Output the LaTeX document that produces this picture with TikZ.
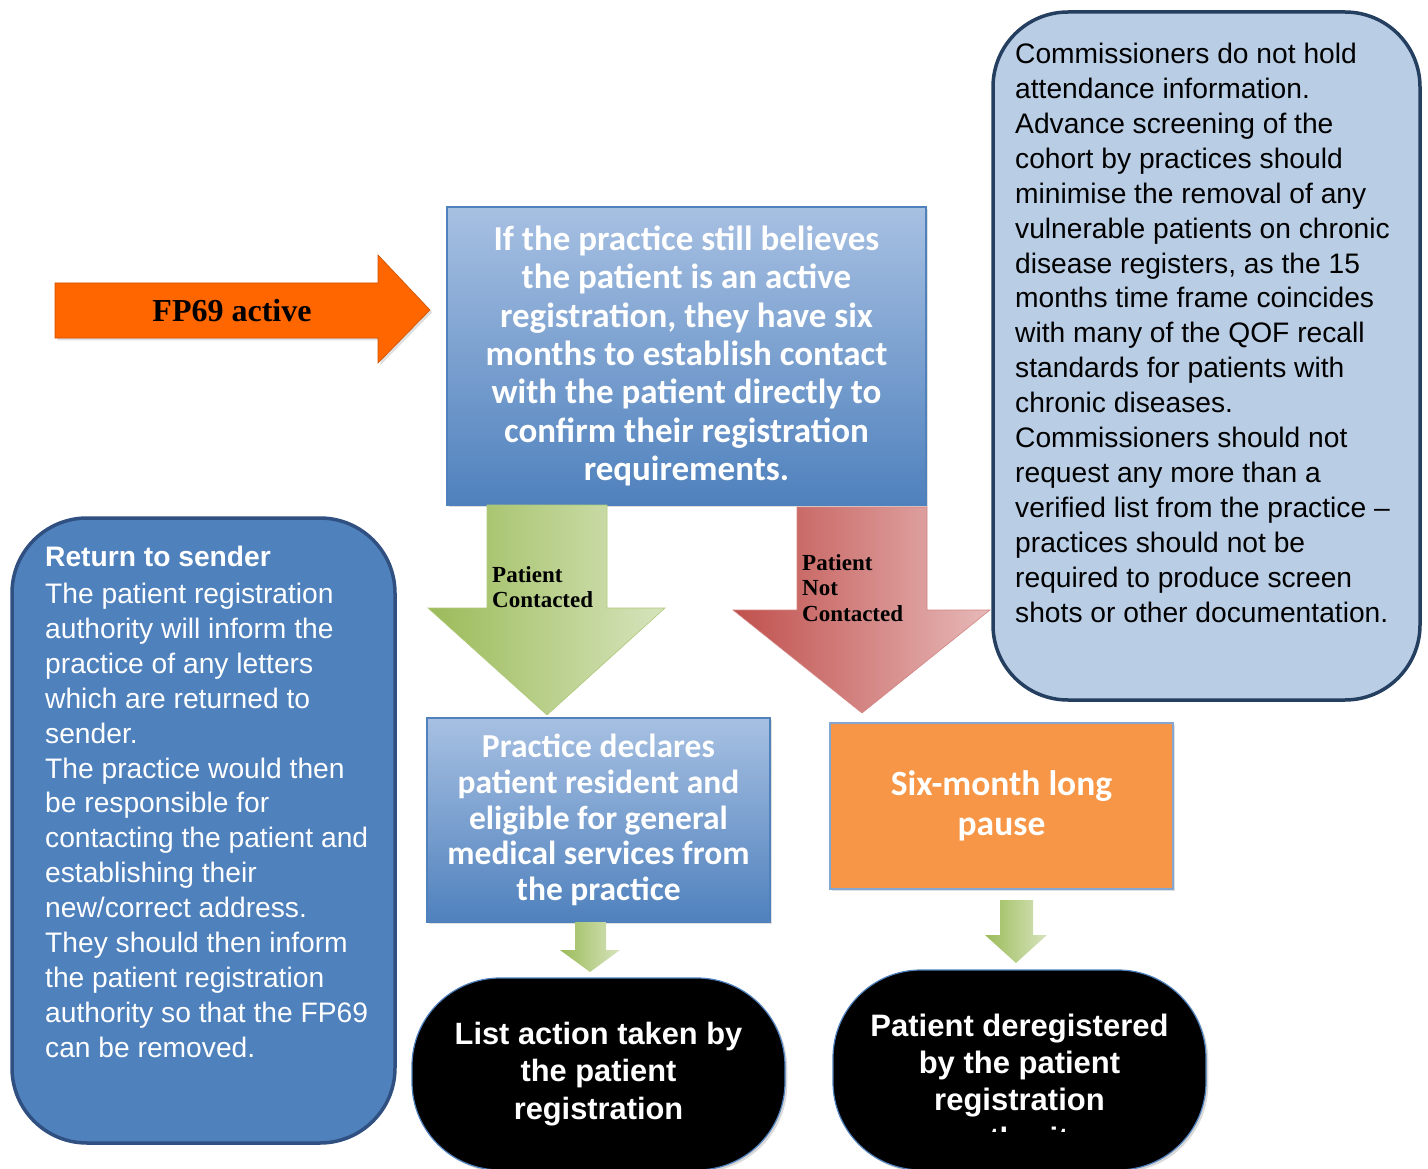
\documentclass[tikz,border=0pt]{standalone}
\usepackage{fontspec}
\setmainfont{Liberation Serif}
\setsansfont{Liberation Sans}
\newfontfamily\calib{Carlito}
\usepackage{tikz}
\usetikzlibrary{shadows}
\usepackage{xcolor}
\definecolor{flowblue}{HTML}{4F81BD}
\definecolor{paleblue}{HTML}{A7C0E2}
\definecolor{noteblue}{HTML}{B9CDE5}
\definecolor{navy}{HTML}{243F60}
\definecolor{deepnavy}{HTML}{2F5080}
\definecolor{flame}{HTML}{FF6600}
\definecolor{pauseorange}{HTML}{F79646}
\definecolor{leafgreen}{HTML}{9BBB59}
\definecolor{palegreen}{HTML}{D7E4BD}
\definecolor{brick}{HTML}{C0504D}
\definecolor{palered}{HTML}{E6B9B8}
\tikzstyle{gradbox} = [draw=flowblue, line width=1.2pt, top color=paleblue, bottom color=flowblue, text=white, align=center, inner sep=0pt, drop shadow={opacity=0.25}]
\tikzstyle{roundnote} = [draw=navy, line width=3.5pt, rounded corners=75pt, inner sep=0pt]
\tikzstyle{terminal} = [draw=flowblue, line width=1.2pt, fill=black, rounded corners=88pt, text=white, align=center, inner sep=0pt, drop shadow={opacity=0.3}]
\tikzstyle{arrowlabel} = [font=\fontsize{23}{25.5}\selectfont\bfseries, align=left, inner sep=0pt, anchor=north west]
\tikzstyle{notetext} = [font=\sffamily\fontsize{28.2}{34.9}\selectfont, align=left, inner sep=0pt, anchor=north west]

\begin{document}
\begin{tikzpicture}[x=1pt, y=-1pt]
    \useasboundingbox (0,0) rectangle (1428,1169);
    % entry arrow
    \filldraw [fill=flame, draw=flame!80!black, line width=0.6pt, drop shadow={opacity=0.25}]
        (55,283) -- (378,283) -- (378,255) -- (430,310) -- (378,363) -- (378,338) -- (55,338) -- cycle;
    \node [font=\fontsize{32}{34}\selectfont\bfseries, inner sep=0pt] (fpactive) at (232,311) {FP69 active};
    % main question box
    \node [gradbox, minimum width=479pt, minimum height=298pt,
           font=\calib\bfseries\fontsize{35}{38.3}\selectfont] (belief) at (686.5,356)
        {If the practice still believes\\ the patient is an active\\ registration, they have six\\
         months to establish contact\\ with the patient directly to\\ confirm their registration\\ requirements.};
    % outcome arrows
    \shade [left color=leafgreen, right color=palegreen, draw=leafgreen!80!white, line width=0.6pt]
        (487,505) -- (607,505) -- (607,608) -- (665,608) -- (547,715) -- (428,608) -- (487,608) -- cycle;
    \node [arrowlabel] (contacted) at (492,566) {Patient\\Contacted};
    \shade [left color=brick, right color=palered, draw=brick!70!white, line width=0.6pt]
        (797,507) -- (927,507) -- (927,610) -- (990,610) -- (862,713) -- (733,610) -- (797,610) -- cycle;
    \node [arrowlabel] (notcontacted) at (802,554) {Patient\\Not\\Contacted};
    % commissioners note
    \node [roundnote, fill=noteblue, minimum width=427pt, minimum height=688pt] (commish) at (1206.5,356) {};
    \node [notetext] (commishtxt) at (1015,43)
        {Commissioners do not hold\\ attendance information.\\ Advance screening of the\\ cohort by practices should\\
         minimise the removal of any\\ vulnerable patients on chronic\\ disease registers, as the 15\\
         months time frame coincides\\ with many of the QOF recall\\ standards for patients with\\ chronic diseases.\\
         Commissioners should not\\ request any more than a\\ verified list from the practice --\\
         practices should not be\\ required to produce screen\\ shots or other documentation.};
    % return to sender note
    \node [roundnote, draw=deepnavy, fill=flowblue, minimum width=383pt, minimum height=625pt] (sender) at (203.5,830.5) {};
    \node [notetext, text=white] (sendertxt) at (45,546)
        {\textbf{Return to sender}\\[2pt] The patient registration\\ authority will inform the\\ practice of any letters\\
         which are returned to\\ sender.\\ The practice would then\\ be responsible for\\ contacting the patient and\\
         establishing their\\ new/correct address.\\ They should then inform\\ the patient registration\\
         authority so that the FP69\\ can be removed.};
    % practice declares
    \node [gradbox, minimum width=343pt, minimum height=204pt,
           font=\calib\bfseries\fontsize{33.5}{35.6}\selectfont] (declares) at (598.5,820)
        {Practice declares\\ patient resident and\\ eligible for general\\ medical services from\\ the practice};
    % six month pause
    \node [draw=flowblue!70!white, line width=1.2pt, fill=pauseorange, minimum width=343pt, minimum height=166pt,
           text=white, align=center, inner sep=0pt, drop shadow={opacity=0.25},
           font=\calib\bfseries\fontsize{35.5}{40}\selectfont] (pause) at (1001.5,806)
        {Six-month long\\ pause};
    % small arrows
    \shade [left color=leafgreen, right color=palegreen]
        (575,922) -- (606,922) -- (606,950) -- (620,950) -- (590,972) -- (560,950) -- (575,950) -- cycle;
    \shade [left color=leafgreen, right color=palegreen]
        (1000,900) -- (1033,900) -- (1033,935) -- (1047,935) -- (1016,963) -- (985,935) -- (1000,935) -- cycle;
    % end states
    \node [terminal, minimum width=373pt, minimum height=192pt,
           font=\sffamily\bfseries\fontsize{30.8}{37.8}\selectfont] (listaction) at (598.5,1074)
        {List action taken by\\ the patient\\ registration};
    \node [terminal, minimum width=373pt, minimum height=200pt] (dereg) at (1019.5,1070) {};
    \node [font=\sffamily\bfseries\fontsize{31}{37}\selectfont, text=white, align=center, inner sep=0pt, anchor=north]
        (deregtxt) at (1019.5,1014) {Patient deregistered\\ by the patient\\ registration};
    \begin{scope}
        \clip (900,1122) rectangle (1140,1131);
        \node [font=\sffamily\bfseries\fontsize{31}{37}\selectfont, text=white, inner sep=0pt, anchor=north]
            (deregcut) at (1019.5,1127) {authority};
    \end{scope}
\end{tikzpicture}
\end{document}
